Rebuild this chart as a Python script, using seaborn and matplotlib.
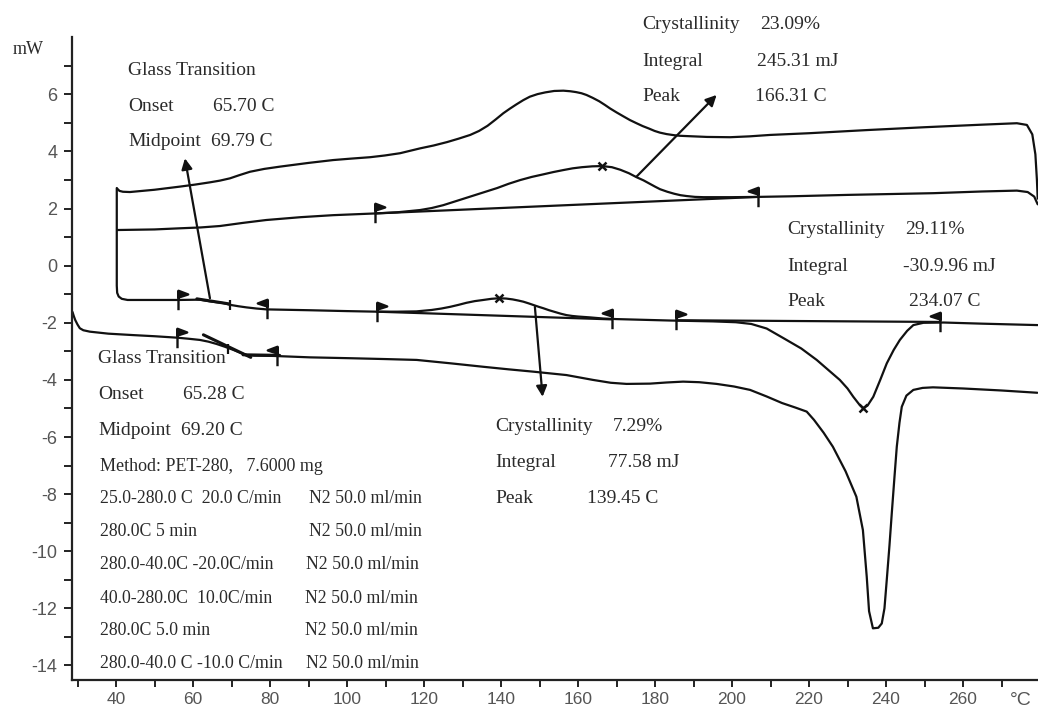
import matplotlib
matplotlib.use("Agg")
import matplotlib.pyplot as plt
from matplotlib.path import Path
import pandas as pd
import seaborn as sns

# ---------------- data (temperature in C, heat flow in mW) ----------------
first_heating = [
    (28.7, -1.62), (29.0, -1.75), (29.4, -1.90), (30.0, -2.06), (30.6, -2.19), (31.5, -2.26),
    (33.2, -2.31), (38.0, -2.38), (44.4, -2.43), (50.0, -2.47), (55.8, -2.52), (59.0, -2.56),
    (61.8, -2.60), (64.0, -2.66), (66.1, -2.74), (68.3, -2.84), (70.5, -2.95), (72.3, -3.05),
    (73.9, -3.13), (76.0, -3.15), (80.9, -3.16), (90.4, -3.21), (100.8, -3.24), (110.0, -3.27),
    (118.1, -3.30), (127.0, -3.42), (135.4, -3.54), (142.0, -3.63), (148.3, -3.71), (157.0, -3.83),
    (163.9, -4.00), (168.5, -4.10), (172.6, -4.14), (178.7, -4.13), (183.0, -4.09), (187.3, -4.06),
    (191.5, -4.08), (196.0, -4.14), (200.5, -4.23), (204.7, -4.35), (209.0, -4.58), (213.0, -4.81),
    (216.5, -4.97), (219.4, -5.11), (221.3, -5.40), (223.8, -5.85), (226.2, -6.34), (229.5, -7.20),
    (232.3, -8.09), (234.0, -9.26), (235.0, -10.9), (235.6, -12.1), (236.6, -12.7), (238.0, -12.68),
    (238.9, -12.53), (239.6, -12.0), (240.2, -11.0), (240.9, -9.8), (241.5, -8.67), (242.2, -7.40),
    (242.8, -6.34), (243.5, -5.50), (244.1, -4.94), (245.3, -4.55), (247.1, -4.35), (249.5, -4.28),
    (252.2, -4.26), (260.0, -4.30), (270.0, -4.37), (279.3, -4.45),
]
first_cooling = [
    (40.3, 2.70), (40.9, 2.62), (41.8, 2.59), (43.6, 2.58), (50.0, 2.66), (56.6, 2.77),
    (60.5, 2.84), (64.4, 2.92), (67.0, 2.98), (69.6, 3.06), (72.0, 3.17), (74.8, 3.29),
    (78.5, 3.39), (82.6, 3.47), (90.0, 3.60), (96.4, 3.70), (101.0, 3.75), (106.0, 3.80),
    (109.8, 3.86), (113.8, 3.94), (119.0, 4.11), (122.5, 4.21), (126.0, 4.33), (129.0, 4.45),
    (132.0, 4.58), (134.3, 4.72), (136.5, 4.90), (138.6, 5.12), (140.6, 5.34), (142.3, 5.50),
    (144.0, 5.65), (145.8, 5.80), (147.5, 5.92), (149.5, 6.01), (151.5, 6.07), (153.8, 6.12),
    (156.2, 6.13), (158.0, 6.11), (159.5, 6.08), (160.9, 6.04), (162.2, 5.98), (163.8, 5.88),
    (165.5, 5.76), (167.0, 5.63), (168.3, 5.51), (170.0, 5.37), (171.8, 5.23), (173.5, 5.10),
    (175.2, 4.99), (176.8, 4.89), (178.5, 4.80), (179.9, 4.72), (181.3, 4.66), (183.0, 4.61),
    (185.0, 4.57), (186.5, 4.55), (188.2, 4.54), (193.5, 4.51), (199.5, 4.50), (204.5, 4.53),
    (209.9, 4.58), (220.0, 4.64), (235.0, 4.75), (250.0, 4.85), (265.0, 4.94), (274.0, 4.99),
    (276.6, 4.93), (278.0, 4.60), (278.8, 3.90), (279.2, 3.00), (279.4, 2.35),
]
second_cooling = [
    (40.4, 1.25), (50.0, 1.27), (56.6, 1.31), (62.0, 1.34), (67.0, 1.39), (73.0, 1.50),
    (79.0, 1.60), (88.0, 1.70), (96.4, 1.77), (107.3, 1.83), (113.0, 1.87), (119.0, 1.95),
    (122.0, 2.02), (125.0, 2.12), (128.5, 2.27), (132.0, 2.42), (135.5, 2.57), (139.0, 2.72),
    (142.0, 2.87), (145.0, 3.00), (148.0, 3.11), (151.0, 3.20), (153.6, 3.28), (156.2, 3.35),
    (158.6, 3.41), (161.0, 3.45), (163.7, 3.48), (166.3, 3.49), (168.8, 3.45), (171.0, 3.36),
    (173.2, 3.24), (175.2, 3.10), (177.0, 2.99), (178.5, 2.88), (180.0, 2.77), (181.3, 2.68),
    (183.2, 2.59), (185.0, 2.52), (186.6, 2.47), (188.2, 2.44), (190.4, 2.41), (192.6, 2.40),
    (200.0, 2.40), (206.8, 2.41), (215.0, 2.43), (230.0, 2.48), (252.3, 2.54), (265.0, 2.60),
    (274.0, 2.63), (276.8, 2.58), (278.5, 2.42), (279.4, 2.15),
]
second_heating = [
    (40.2, 2.72), (40.2, 1.25), (40.2, -0.70), (40.3, -0.95), (40.7, -1.08), (41.5, -1.16),
    (43.0, -1.20), (50.0, -1.20), (56.2, -1.20), (61.8, -1.19), (64.4, -1.25), (67.9, -1.31),
    (69.6, -1.37), (71.8, -1.42), (73.9, -1.46), (76.5, -1.50), (79.1, -1.53), (90.4, -1.56),
    (100.0, -1.59), (107.7, -1.61), (113.0, -1.61), (118.0, -1.60), (122.0, -1.55), (124.5, -1.50),
    (126.8, -1.44), (129.0, -1.37), (131.0, -1.30), (133.2, -1.24), (135.4, -1.20), (137.5, -1.16),
    (139.45, -1.14), (141.3, -1.15), (143.0, -1.18), (144.5, -1.22), (145.8, -1.26), (147.2, -1.32),
    (148.5, -1.38), (149.8, -1.44), (151.0, -1.49), (152.5, -1.56), (154.0, -1.62), (155.5, -1.68),
    (157.0, -1.73), (158.5, -1.76), (160.0, -1.78), (163.1, -1.81), (166.5, -1.85), (170.0, -1.87),
    (183.9, -1.92), (195.0, -1.95), (201.0, -1.98), (205.0, -2.04), (209.0, -2.20), (213.4, -2.54),
    (218.0, -2.90), (222.0, -3.30), (225.0, -3.65), (228.0, -4.00), (230.0, -4.30), (231.5, -4.59),
    (233.0, -4.85), (234.07, -4.99), (235.2, -4.90), (236.7, -4.59), (238.5, -4.00), (240.2, -3.42),
    (242.0, -2.95), (243.6, -2.60), (245.5, -2.28), (247.1, -2.08), (249.7, -2.00), (255.0, -1.99),
    (265.0, -2.03), (279.4, -2.08),
]
# integration baselines (start, end)
baselines = [
    [(107.3, 1.83), (206.8, 2.41)],
    [(107.7, -1.61), (168.8, -1.88)],
    [(185.5, -1.91), (254.0, -1.97)],
]
# glass-transition tangent segments
tangents = [
    [(61.0, -1.16), (69.5, -1.34)],
    [(62.7, -2.42), (75.0, -3.21)],
    [(73.0, -3.12), (82.5, -3.14)],
]
flags_right = [(55.8, -2.52), (56.2, -1.20), (107.7, -1.61), (185.5, -1.91), (107.3, 1.83)]
flags_left = [(81.8, -3.16), (79.1, -1.53), (168.8, -1.88), (254.0, -1.97), (206.8, 2.41)]
peaks = [(166.31, 3.49), (139.45, -1.14), (234.07, -4.99)]
midpoints = [(69.6, -1.37), (69.2, -2.90)]
arrows = [  # (tail, head)
    ((64.4, -1.14), (57.9, 3.76)),
    ((175.2, 3.12), (196.0, 5.98)),
    ((148.8, -1.44), (150.8, -4.59)),
]
x_ticks = list(range(30, 271, 10))
x_labels = [str(t) if t % 20 == 0 and 40 <= t <= 260 else "" for t in x_ticks]
y_ticks = list(range(-14, 8))
y_labels = [str(t) if t % 2 == 0 else "" for t in y_ticks]

# ---------------- style ----------------
sns.set_theme(style="white")
plt.rcParams["font.family"] = ["Liberation Sans", "DejaVu Sans"]
plt.rcParams["axes.unicode_minus"] = False
INK = "#111111"
TXT = "#2a2a2a"
SERIF = ["Liberation Serif", "DejaVu Serif"]

W, H = 1038, 710
fig = plt.figure(figsize=(W / 100, H / 100), dpi=100)
fig.patch.set_facecolor("white")
ax = fig.add_axes([72 / W, 30 / H, 966 / W, 643 / H])
ax.set_facecolor("white")

for pts in [first_heating, first_cooling, second_cooling, second_heating]:
    df = pd.DataFrame(pts, columns=["T", "mW"])
    sns.lineplot(data=df, x="T", y="mW", sort=False, estimator=None,
                 color=INK, lw=1.6, ax=ax)

for seg in baselines:
    df = pd.DataFrame(seg, columns=["T", "mW"])
    sns.lineplot(data=df, x="T", y="mW", sort=False, estimator=None, color=INK, lw=1.6, ax=ax)
for seg in tangents:
    df = pd.DataFrame(seg, columns=["T", "mW"])
    sns.lineplot(data=df, x="T", y="mW", sort=False, estimator=None, color=INK, lw=2.2, ax=ax)

# flag markers (stem with a pennant at the top)
M, L, C = Path.MOVETO, Path.LINETO, Path.CLOSEPOLY
flag_r = Path([(0, -1), (0, 1), (0, 1), (1.0, 0.62), (0, 0.30), (0, 1)], [M, L, M, L, L, C])
flag_l = Path([(0, -1), (0, 1), (0, 1), (-1.0, 0.62), (0, 0.30), (0, 1)], [M, L, M, L, L, C])
for pts, mk in [(flags_right, flag_r), (flags_left, flag_l)]:
    xs, ys = zip(*pts)
    ax.plot(xs, ys, ls="none", marker=mk, ms=14, mfc=INK, mec=INK, mew=1.7)

xs, ys = zip(*peaks)
ax.plot(xs, ys, ls="none", marker="x", ms=6, mec=INK, mew=1.8)
xs, ys = zip(*midpoints)
ax.plot(xs, ys, ls="none", marker="|", ms=7, mec=INK, mew=1.6)

for tail, head in arrows:
    ax.annotate("", xy=head, xytext=tail,
                arrowprops=dict(arrowstyle="-|>", color=INK, lw=1.6,
                                mutation_scale=16, shrinkA=0, shrinkB=0))

# axes
ax.set_xlim(28.57, 279.48)
ax.set_ylim(-14.51, 8.01)
ax.set_xticks(x_ticks)
ax.set_xticklabels(x_labels)
ax.set_yticks(y_ticks)
ax.set_yticklabels(y_labels)
ax.set_xlabel("")
ax.set_ylabel("")
for s in ["top", "right"]:
    ax.spines[s].set_visible(False)
for s in ["left", "bottom"]:
    ax.spines[s].set_color("#222222")
    ax.spines[s].set_linewidth(1.6)
ax.tick_params(axis="y", direction="out", length=6, width=1.4, color="#222222",
               labelsize=13, labelcolor="#555555", pad=4.5, left=True)
ax.tick_params(axis="x", direction="out", length=5, width=1.4, color="#222222",
               labelsize=12.5, labelcolor="#555555", pad=3.5, bottom=True)
ax.grid(False)

# ---------------- annotation text ----------------
def put(x, y, s, size=14, **kw):
    fig.text(x / W, 1 - (y + 6) / H, s, fontsize=size, family=SERIF, color=TXT,
             ha="left", va="baseline", **kw)

put(13, 48, "mW", size=13)
fig.text(1010 / W, 1 - 705 / H, "°C", fontsize=14, color="#555555", ha="left", va="baseline")

put(128, 69, "Glass Transition")
put(128, 105, "Onset"); put(213, 105, "65.70 C")
put(128, 140, "Midpoint"); put(211, 140, "69.79 C")

put(642, 23, "Crystallinity"); put(760, 23, "23.09%")
put(642, 60, "Integral"); put(757, 60, "245.31 mJ")
put(642, 95, "Peak"); put(755, 95, "166.31 C")

put(787, 228, "Crystallinity"); put(905, 228, "29.11%")
put(787, 265, "Integral"); put(903, 265, "-30.9.96 mJ")
put(787, 300, "Peak"); put(909, 300, "234.07 C")

put(495, 425, "Crystallinity"); put(613, 425, "7.29%")
put(495, 461, "Integral"); put(608, 461, "77.58 mJ")
put(495, 497, "Peak"); put(587, 497, "139.45 C")

put(98, 357, "Glass Transition")
put(98, 393, "Onset"); put(183, 393, "65.28 C")
put(98, 429, "Midpoint"); put(181, 429, "69.20 C")
put(100, 465, "Method: PET-280,   7.6000 mg", size=13)
method_rows = [
    ("25.0-280.0 C  20.0 C/min", 497, 309),
    ("280.0C 5 min", 530, 309),
    ("280.0-40.0C -20.0C/min", 563, 306),
    ("40.0-280.0C  10.0C/min", 597, 305),
    ("280.0C 5.0 min", 629, 305),
    ("280.0-40.0 C -10.0 C/min", 662, 306),
]
for txt, y, xr in method_rows:
    put(100, y, txt, size=12.8)
    put(xr, y, "N2 50.0 ml/min", size=12.8)

fig.savefig("out.png", dpi=100, facecolor="white")
